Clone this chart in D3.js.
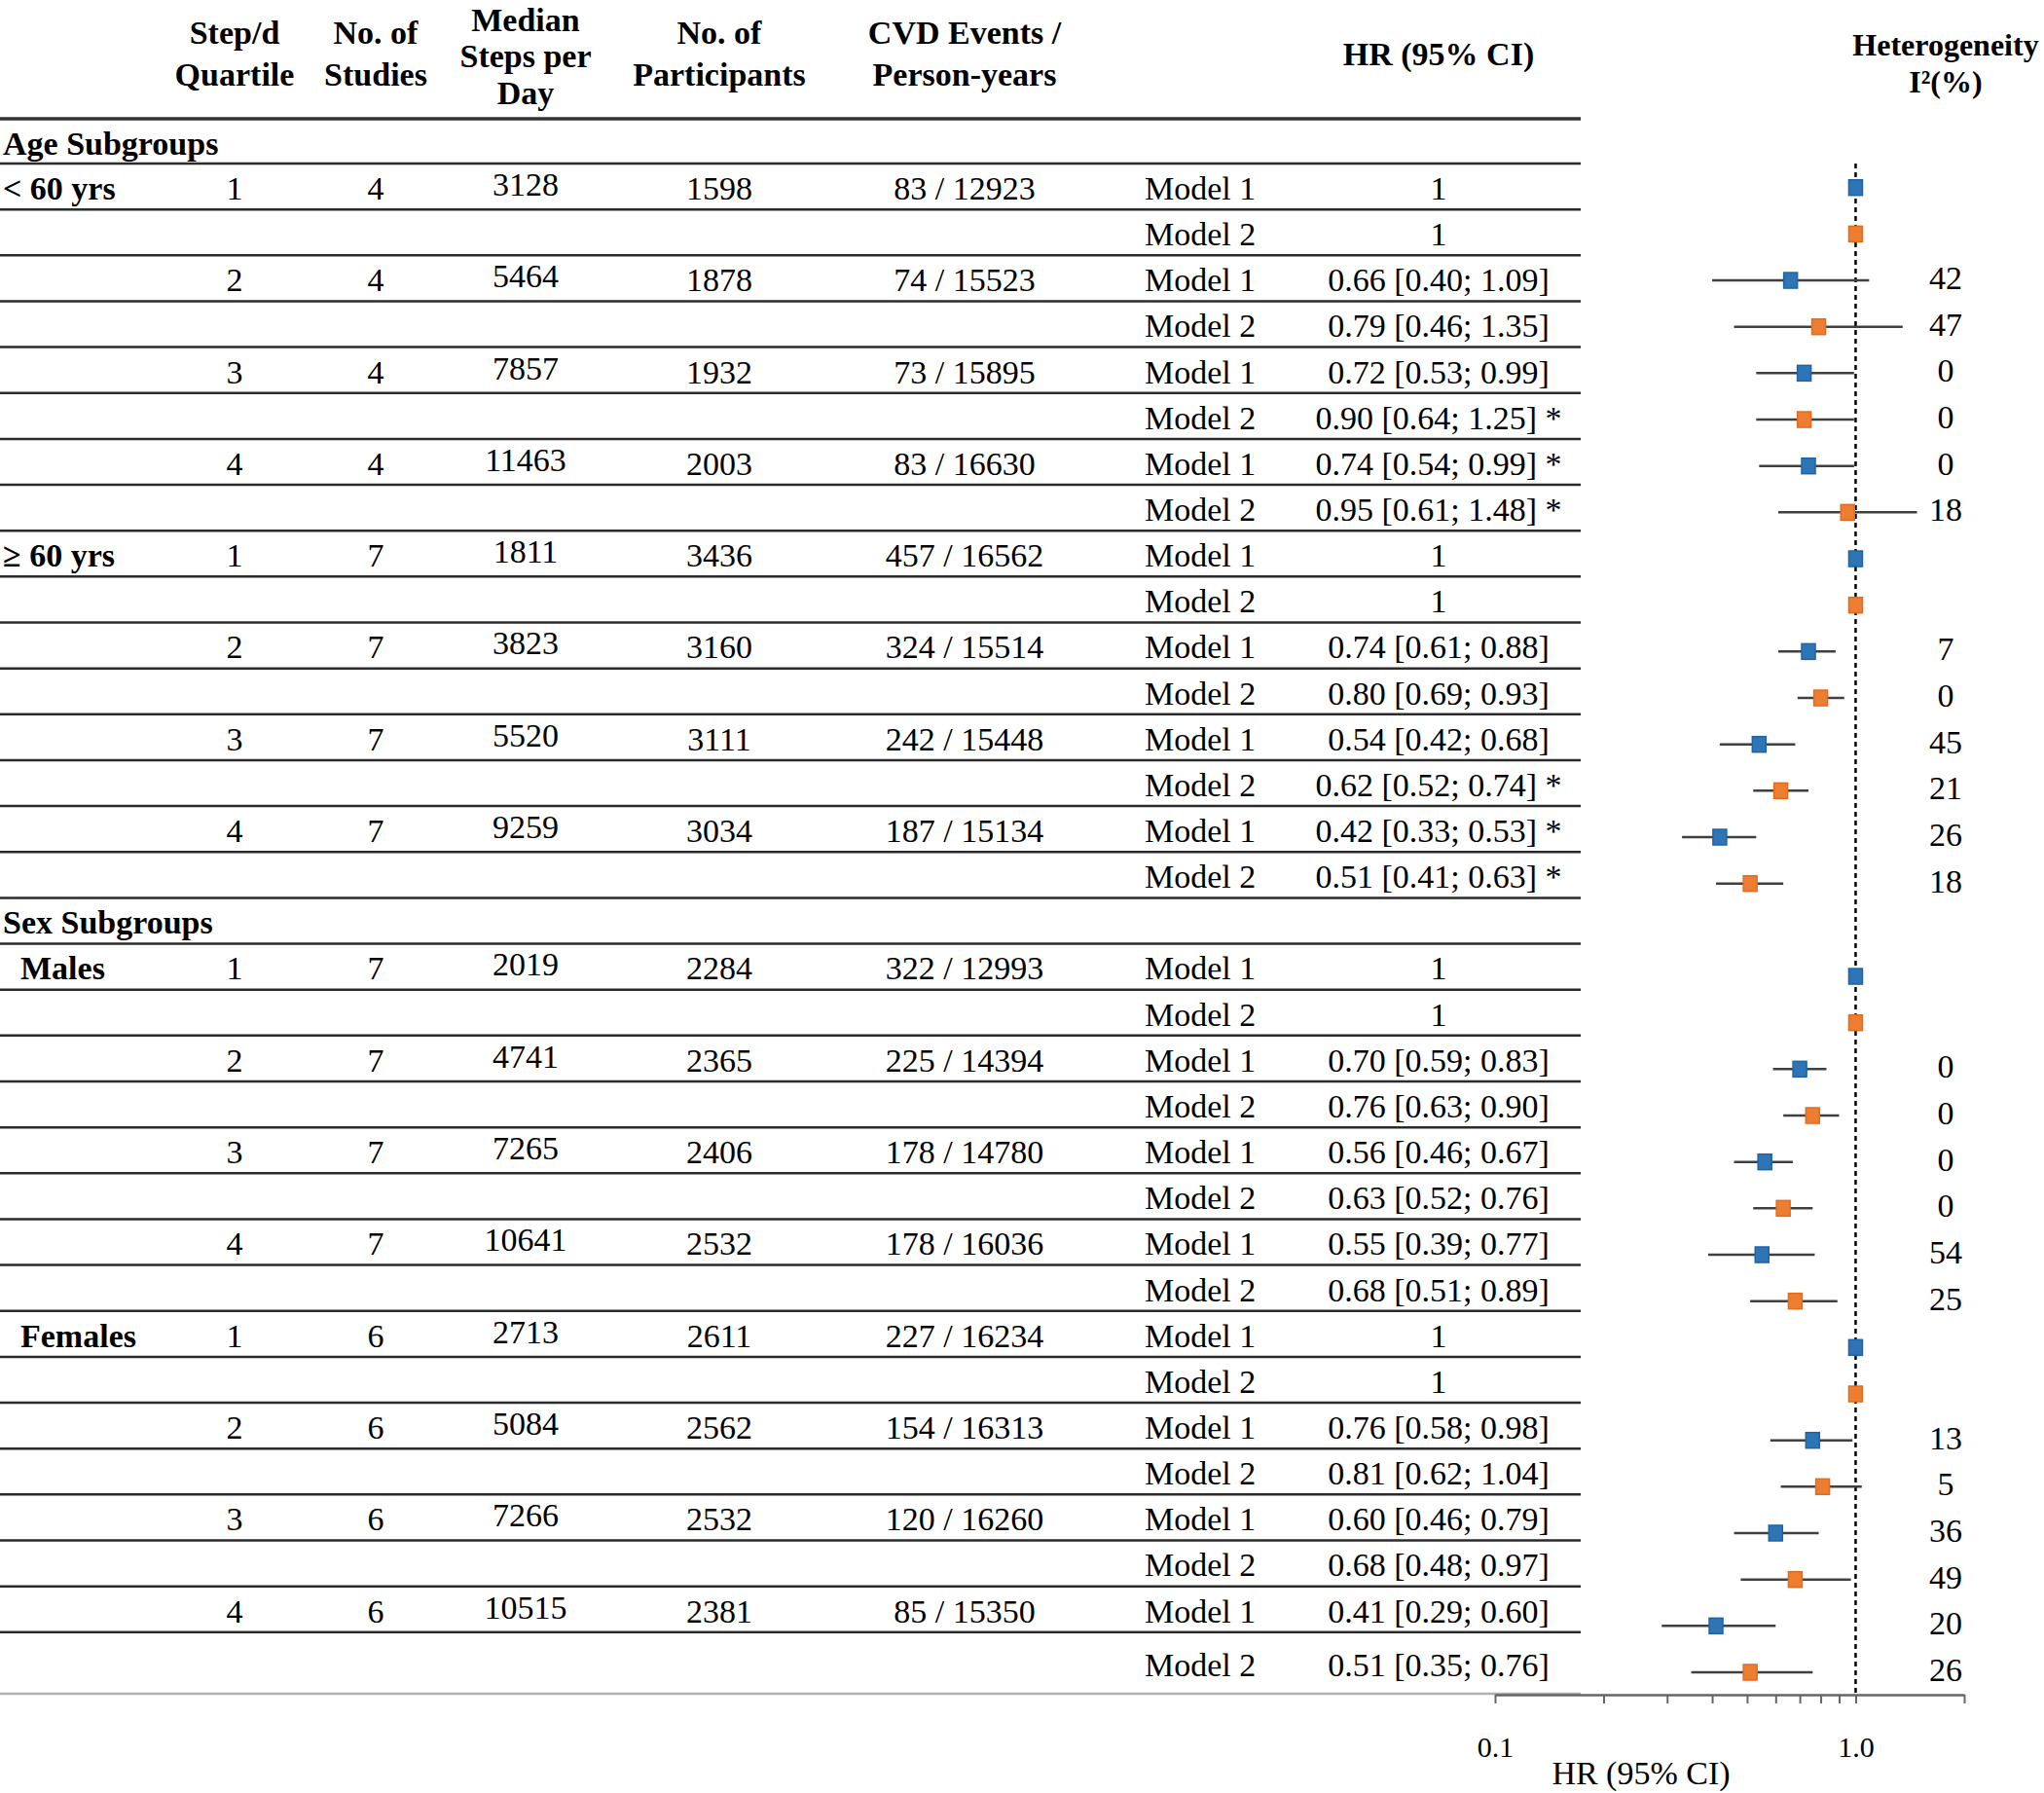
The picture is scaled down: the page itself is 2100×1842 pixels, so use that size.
<!DOCTYPE html>
<html>
<head>
<meta charset="utf-8">
<script src="https://cdn.jsdelivr.net/npm/d3@7"></script>
<style>
  html, body { margin: 0; padding: 0; background: #fff; }
  svg { display: block; }
  text { font-family: "Liberation Serif", "Times New Roman", serif; fill: #000; }
</style>
</head>
<body>
<svg id="chart" width="2100" height="1842"></svg>
<script>
// ---------------- DATA ----------------
const sectionTitles = ["Age Subgroups", "Sex Subgroups"];
const groupLabels = ["< 60 yrs", "≥ 60 yrs", "Males", "Females"];
const quartiles = [1, 2, 3, 4];
const nStudies = [4, 4, 4, 4, 7, 7, 7, 7, 7, 7, 7, 7, 6, 6, 6, 6];
const medianSteps = [3128, 5464, 7857, 11463, 1811, 3823, 5520, 9259, 2019, 4741, 7265, 10641, 2713, 5084, 7266, 10515];
const participants = [1598, 1878, 1932, 2003, 3436, 3160, 3111, 3034, 2284, 2365, 2406, 2532, 2611, 2562, 2532, 2381];
const events = ["83 / 12923", "74 / 15523", "73 / 15895", "83 / 16630",
                "457 / 16562", "324 / 15514", "242 / 15448", "187 / 15134",
                "322 / 12993", "225 / 14394", "178 / 14780", "178 / 16036",
                "227 / 16234", "154 / 16313", "120 / 16260", "85 / 15350"];
const models = ["Model 1", "Model 2"];
const hrLabels = [
  "1", "1", "0.66 [0.40; 1.09]", "0.79 [0.46; 1.35]", "0.72 [0.53; 0.99]", "0.90 [0.64; 1.25] *", "0.74 [0.54; 0.99] *", "0.95 [0.61; 1.48] *",
  "1", "1", "0.74 [0.61; 0.88]", "0.80 [0.69; 0.93]", "0.54 [0.42; 0.68]", "0.62 [0.52; 0.74] *", "0.42 [0.33; 0.53] *", "0.51 [0.41; 0.63] *",
  "1", "1", "0.70 [0.59; 0.83]", "0.76 [0.63; 0.90]", "0.56 [0.46; 0.67]", "0.63 [0.52; 0.76]", "0.55 [0.39; 0.77]", "0.68 [0.51; 0.89]",
  "1", "1", "0.76 [0.58; 0.98]", "0.81 [0.62; 1.04]", "0.60 [0.46; 0.79]", "0.68 [0.48; 0.97]", "0.41 [0.29; 0.60]", "0.51 [0.35; 0.76]"
];
// plotted estimates, as drawn in the figure
const hr = [1, 1, 0.66, 0.79, 0.72, 0.72, 0.74, 0.95,
            1, 1, 0.74, 0.80, 0.54, 0.62, 0.42, 0.51,
            1, 1, 0.70, 0.76, 0.56, 0.63, 0.55, 0.68,
            1, 1, 0.76, 0.81, 0.60, 0.68, 0.41, 0.51];
const ciLow = [null, null, 0.40, 0.46, 0.53, 0.53, 0.54, 0.61,
               null, null, 0.61, 0.69, 0.42, 0.52, 0.33, 0.41,
               null, null, 0.59, 0.63, 0.46, 0.52, 0.39, 0.51,
               null, null, 0.58, 0.62, 0.46, 0.48, 0.29, 0.35];
const ciHigh = [null, null, 1.09, 1.35, 0.99, 0.99, 0.99, 1.48,
                null, null, 0.88, 0.93, 0.68, 0.74, 0.53, 0.63,
                null, null, 0.83, 0.90, 0.67, 0.76, 0.77, 0.89,
                null, null, 0.98, 1.04, 0.79, 0.97, 0.60, 0.76];
const heterogeneity = ["", "", "42", "47", "0", "0", "0", "18",
                       "", "", "7", "0", "45", "21", "26", "18",
                       "", "", "0", "0", "0", "0", "54", "25",
                       "", "", "13", "5", "36", "49", "20", "26"];
const axisTicks = [0.1, 0.2, 0.3, 0.4, 0.5, 0.6, 0.7, 0.8, 0.9, 1.0, 2.0];
const axisTickLabels = {0.1: "0.1", 1: "1.0"};
const axisTitle = "HR (95% CI)";
const headers = [
  {lines: ["Step/d", "Quartile"], x: 241, ys: [33, 76]},
  {lines: ["No. of", "Studies"], x: 386, ys: [33, 76]},
  {lines: ["Median", "Steps per", "Day"], x: 540, ys: [20, 57, 95]},
  {lines: ["No. of", "Participants"], x: 739, ys: [33, 76]},
  {lines: ["CVD  Events /", "Person-years"], x: 991, ys: [33, 76]},
  {lines: ["HR (95% CI)"], x: 1478, ys: [55]}
];
const hetHeader = ["Heterogeneity", "I²(%)"];

// ---------------- LAYOUT ----------------
const svg = d3.select("#chart");
const FS = 34;
const tableRight = 1624;
const colX = {label: 3, labelIndent: 21, quart: 241, studies: 386, median: 540, part: 739, events: 991, model: 1176, hr: 1478, het: 1999};

const headerLineY = 122;
const rowTop = d3.scaleLinear().domain([1, 33]).range([168, 168 + 32 * 47.15]);
const tableBottom = 1740;
function topOf(r) { return r === 0 ? headerLineY : rowTop(r); }

const fy = d3.scaleLinear().domain([0, 32]).range([192.7, 1718]);
const x = d3.scaleLog().domain([0.1, 2]).range([1536, 2018]);

// ---- header ----
headers.forEach(h => {
  h.lines.forEach((t, i) => {
    svg.append("text").attr("x", h.x).attr("y", h.ys[i]).attr("dy", "0.35em")
      .attr("text-anchor", "middle").attr("font-weight", "bold").attr("font-size", 34).text(t);
  });
});
hetHeader.forEach((t, i) => {
  svg.append("text").attr("x", 1999).attr("y", [46, 84][i]).attr("dy", "0.35em")
    .attr("text-anchor", "middle").attr("font-weight", "bold").attr("font-size", 32).text(t);
});

// ---- table lines ----
svg.append("line").attr("x1", 0).attr("x2", tableRight).attr("y1", headerLineY).attr("y2", headerLineY)
  .attr("stroke", "#333").attr("stroke-width", 3.5);
d3.range(1, 34).forEach(r => {
  svg.append("line").attr("x1", 0).attr("x2", tableRight).attr("y1", rowTop(r)).attr("y2", rowTop(r))
    .attr("stroke", "#2b2b2b").attr("stroke-width", 2.5);
});
svg.append("line").attr("x1", 0).attr("x2", tableRight).attr("y1", tableBottom).attr("y2", tableBottom)
  .attr("stroke", "#b0b0b0").attr("stroke-width", 2.5);

[0, 17].forEach((r, i) => {
  svg.append("text").attr("x", colX.label).attr("y", topOf(r) + 25).attr("dy", "0.35em")
    .attr("font-weight", "bold").attr("font-size", 34).text(sectionTitles[i]);
});

function tableRowOf(i) { return i + 1 + (i >= 16 ? 1 : 0); }
function cell(xp, y, t, anchor, opts) {
  const el = svg.append("text").attr("x", xp).attr("y", y).attr("dy", "0.35em")
    .attr("text-anchor", anchor || "middle").attr("font-size", FS).text(t);
  if (opts && opts.bold) el.attr("font-weight", "bold");
  return el;
}
hr.forEach((v, i) => {
  const r = tableRowOf(i);
  const cy = topOf(r) + (r === 33 ? 33 : 25);
  const q = Math.floor(i / 2);
  if (i % 8 === 0) {
    const g = i / 8;
    cell(g >= 2 ? colX.labelIndent : colX.label, cy, groupLabels[g], "start", {bold: true});
  }
  if (i % 2 === 0) {
    cell(colX.quart, cy, quartiles[q % 4]);
    cell(colX.studies, cy, nStudies[q]);
    cell(colX.median, cy - 4, medianSteps[q]);
    cell(colX.part, cy, participants[q]);
    cell(colX.events, cy, events[q]);
  }
  cell(colX.model, cy, models[i % 2], "start");
  cell(colX.hr, cy, hrLabels[i]);
});

// ---- forest plot ----
const axisY = 1741;
svg.append("line").attr("x1", x(1)).attr("x2", x(1)).attr("y1", 168).attr("y2", axisY)
  .attr("stroke", "#000").attr("stroke-width", 2.5).attr("stroke-dasharray", "5,4");

const axis = d3.axisBottom(x).tickValues(axisTicks)
  .tickFormat(d => axisTickLabels[d] || "").tickSize(9).tickPadding(34).tickSizeOuter(0);
const axG = svg.append("g").attr("transform", `translate(0,${axisY})`).call(axis);
axG.select(".domain").attr("stroke", "#666").attr("stroke-width", 2.5);
axG.selectAll(".tick line").attr("stroke", "#666").attr("stroke-width", 2);
axG.selectAll(".tick text").attr("font-size", 30).attr("fill", "#595959")
  .attr("font-family", "Liberation Serif, serif");

svg.append("text").attr("x", 1686).attr("y", 1821).attr("dy", "0.35em")
  .attr("text-anchor", "middle").attr("font-size", 34).attr("fill", "#111").text(axisTitle);

const colors = [{fill: "#2E75B6", stroke: "#1F63A6"}, {fill: "#ED7D31", stroke: "#E36C1C"}];
hr.forEach((v, i) => {
  const f = tableRowOf(i) - 1;
  const y = fy(f);
  if (ciLow[i] != null) {
    svg.append("line").attr("x1", x(ciLow[i])).attr("x2", x(ciHigh[i])).attr("y1", y).attr("y2", y)
      .attr("stroke", "#404040").attr("stroke-width", 2.5);
  }
  const c = colors[i % 2];
  svg.append("rect").attr("x", x(v) - 7).attr("y", y - 8).attr("width", 14).attr("height", 16)
    .attr("fill", c.fill).attr("stroke", c.stroke).attr("stroke-width", 1.5);
  if (heterogeneity[i] !== "") {
    svg.append("text").attr("x", colX.het).attr("y", y - 3).attr("dy", "0.35em")
      .attr("text-anchor", "middle").attr("font-size", FS).text(heterogeneity[i]);
  }
});
</script>
</body>
</html>
